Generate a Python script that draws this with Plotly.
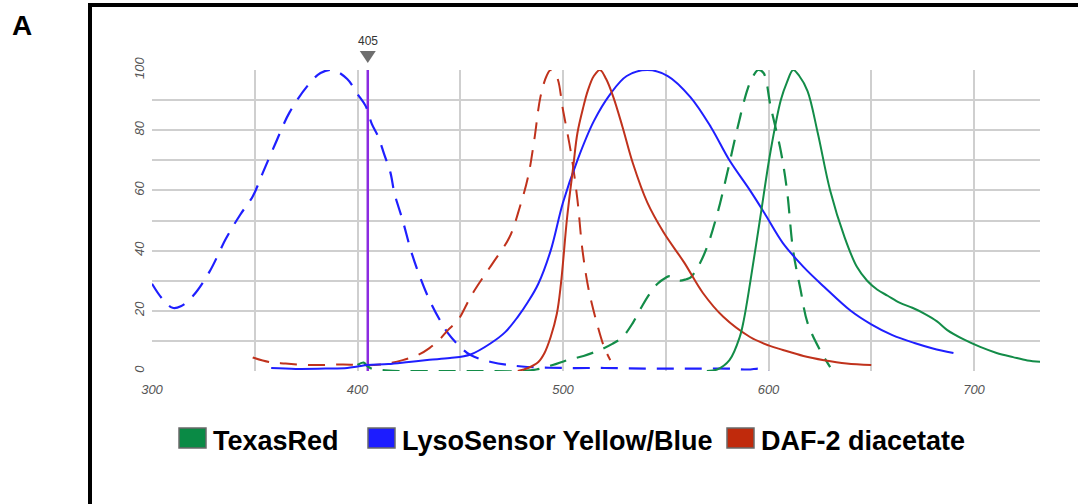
import plotly.graph_objects as go

# ---------------- data (wavelength nm, normalized intensity %) ----------------
lyso_ex_x = [300, 305, 310, 314, 320, 328, 336, 343, 349, 354, 360, 367, 376, 382, 388,
             395, 400, 404, 407, 410, 413, 416, 418, 422, 426, 430, 435, 440, 444, 450,
             455, 465, 480, 500, 520, 540, 560, 580, 590, 596, 600]
lyso_ex_y = [29, 24, 21, 21.5, 25, 33, 44, 52, 58, 66, 75.5, 86, 95, 99, 100,
             97, 92, 88, 82, 78, 72, 66, 59, 50, 40, 32, 23.6, 17, 12.6, 8,
             5.3, 3, 1.5, 1, 1, 0.8, 0.8, 0.8, 0.5, 0.8, 0]

lyso_em_x = [358, 370, 385, 395, 400, 405, 415, 425, 435, 445, 455, 465, 472, 478, 483,
             488, 494, 500, 507, 515, 523, 531, 541, 551, 562, 572, 581, 591, 598, 607,
             617, 627, 640, 650, 660, 671, 680, 690]
lyso_em_y = [1, 0.7, 0.8, 1, 1.5, 2, 2.3, 3, 3.7, 4.3, 5.5, 9.3, 13, 18, 23,
             29, 40, 56, 70, 83, 92, 98, 100, 98, 91, 81, 70, 60, 52.5, 42.5,
             34.6, 28, 20, 15.5, 12, 9.3, 7.5, 6]

daf_ex_x = [349, 357, 365, 375, 385, 393, 400, 408, 415, 422, 430, 435, 440, 444, 449,
            455, 460, 466, 474, 479, 483, 486, 489, 492, 494, 497, 500, 504, 507, 509.5,
            512.5, 517, 520, 523]
daf_ex_y = [4.5, 3, 2.5, 2, 2, 2.2, 2, 2, 2.5, 3.6, 5.5, 7.6, 10.5, 13.6, 17,
            24.6, 30, 36, 44.5, 54.5, 64.5, 76.7, 91, 98, 100, 97.7, 86.7, 72, 57, 40,
            27, 14.6, 8, 3.6]

daf_em_x = [478, 483, 488, 491, 494, 497, 499, 502, 505, 507, 510, 512, 515, 518, 521,
            524.5, 529, 534, 541, 549, 559, 568, 578, 591, 600, 607, 617, 627, 638, 650]
daf_em_y = [0, 1, 3, 6, 11.3, 19, 29, 51, 68, 79, 88, 93, 98, 100, 97,
            91, 81, 69, 56, 46, 36, 26, 18, 11.3, 8.5, 7, 5, 3.6, 2.5, 2]

tr_ex_x = [400, 403, 405, 408, 412, 420, 440, 460, 480, 487, 495, 502, 510, 518, 524,
           529, 534, 538, 542, 546, 550, 552, 555, 557, 560, 562, 566, 570, 575, 580,
           585, 590, 593, 595, 597.6, 601, 606, 609, 612, 615.6, 619, 625, 630]
tr_ex_y = [2, 2.8, 1.5, 0.5, 0.3, 0, 0, 0, 0, 0.5, 2, 3.6, 5, 7, 9,
           11.3, 16, 21, 25.5, 29, 31, 31.5, 30.5, 30, 30.5, 31, 35, 41, 52, 66,
           81, 94, 98.5, 100, 99, 88, 73, 60, 40, 27, 16, 7, 1.3]

tr_em_x = [570, 575, 581, 586, 588, 591, 596, 601, 606, 609, 612, 615, 619, 624, 630,
           637, 643, 648, 653, 658, 664, 670, 676, 682, 687, 695, 703, 711, 719, 726, 733]
tr_em_y = [0, 0.5, 3.6, 11.3, 17, 29, 51, 73, 90, 96, 100, 98, 93, 79, 60,
           44.5, 34.6, 30, 27, 25, 22.6, 21, 19, 16.5, 13.6, 10.5, 8, 6, 4.6, 3.5, 3]

laser_nm = 405
laser_label = "405"

x_tickvals = [300, 350, 400, 450, 500, 550, 600, 650, 700]
x_ticktext = ["300", "", "400", "", "500", "", "600", "", "700"]
y_tickvals = [0, 10, 20, 30, 40, 50, 60, 70, 80, 90, 100]
y_ticktext = ["0", "", "20", "", "40", "", "60", "", "80", "", "100"]

legend_names = ["TexasRed", "LysoSensor Yellow/Blue", "DAF-2 diacetate"]
legend_colors = ["#0a8a45", "#1c1cff", "#c02a0c"]
panel_label = "A"

GREEN = "#138c48"
BLUE = "#1f1fff"
RED = "#c0321c"
PURPLE = "#8b2be0"

# ---------------- layout geometry ----------------
W, H = 1078, 504
ML, MR, MT, MB = 152, 38, 70, 133
PW, PH = W - ML - MR, H - MT - MB


def px(x):
    return (x - ML) / PW


def py(y):
    return 1 - (y - MT) / PH


fig = go.Figure()

dash = "17px,11px"
fig.add_trace(go.Scatter(x=[laser_nm, laser_nm], y=[0, 100], mode="lines",
                         line=dict(color=PURPLE, width=2.5), showlegend=False, hoverinfo="skip"))
fig.add_trace(go.Scatter(x=lyso_ex_x, y=lyso_ex_y, mode="lines", line=dict(color=BLUE, width=2.2, dash=dash),
                         line_shape="spline", showlegend=False))
fig.add_trace(go.Scatter(x=daf_ex_x, y=daf_ex_y, mode="lines", line=dict(color=RED, width=2, dash=dash),
                         line_shape="spline", showlegend=False))
fig.add_trace(go.Scatter(x=tr_ex_x, y=tr_ex_y, mode="lines", line=dict(color=GREEN, width=2.2, dash=dash),
                         line_shape="spline", showlegend=False))
fig.add_trace(go.Scatter(x=lyso_em_x, y=lyso_em_y, mode="lines", line=dict(color=BLUE, width=2),
                         line_shape="spline", showlegend=False))
fig.add_trace(go.Scatter(x=daf_em_x, y=daf_em_y, mode="lines", line=dict(color=RED, width=2),
                         line_shape="spline", showlegend=False))
fig.add_trace(go.Scatter(x=tr_em_x, y=tr_em_y, mode="lines", line=dict(color=GREEN, width=2),
                         line_shape="spline", showlegend=False))

# laser marker triangle + label (above the plot)
fig.add_shape(type="path", xref="x", yref="paper", xsizemode="pixel", ysizemode="pixel",
              xanchor=laser_nm, yanchor=py(51), path="M-8,0 L8,0 L0,-12 Z",
              fillcolor="#6e6e6e", line=dict(width=0), layer="above")
fig.add_annotation(x=laser_nm, xref="x", yref="paper", y=py(41), text=laser_label, showarrow=False,
                   xanchor="center", yanchor="middle",
                   font=dict(family="Liberation Sans, Arial", size=12, color="#333333"))

tickfont = dict(family="Liberation Sans, Arial", size=13, color="#555555", style="italic")

fig.update_xaxes(range=[300, 300 + PW / 2.055], tickmode="array", tickvals=x_tickvals, ticktext=x_ticktext,
                 showgrid=True, gridcolor="#cfcfcf", gridwidth=1.6, zeroline=False, showline=False,
                 ticks="", ticklabelstandoff=9, tickfont=tickfont, fixedrange=True)
fig.update_yaxes(range=[0, 100], tickmode="array", tickvals=y_tickvals, ticktext=y_ticktext,
                 showgrid=True, gridcolor="#cfcfcf", gridwidth=1.6, zeroline=False, showline=False,
                 ticks="", tickangle=-90, ticklabelstandoff=4, tickfont=tickfont, fixedrange=True)

# outer black frame
fig.add_shape(type="rect", xref="paper", yref="paper",
              x0=px(90), y0=py(520), x1=px(1095), y1=py(5),
              line=dict(color="black", width=4), fillcolor="rgba(0,0,0,0)", layer="above")

# panel label
fig.add_annotation(xref="paper", yref="paper", x=px(22), y=py(25), text="<b>%s</b>" % panel_label,
                   showarrow=False, xanchor="center", yanchor="middle",
                   font=dict(family="Liberation Sans, Arial", size=28, color="black"))

# legend: swatches + bold labels
swatch_x0 = [179, 368, 727]
swatch_w, swatch_h = 27, 20
legend_yc = 438
for name, col, sx in zip(legend_names, legend_colors, swatch_x0):
    fig.add_shape(type="rect", xref="paper", yref="paper",
                  x0=px(sx), x1=px(sx + swatch_w), y0=py(legend_yc + swatch_h / 2), y1=py(legend_yc - swatch_h / 2),
                  line=dict(color="#6a6a6a", width=1.5), fillcolor=col)
    fig.add_annotation(xref="paper", yref="paper", x=px(sx + swatch_w + 5), y=py(legend_yc + 3),
                       text="<b>%s</b>" % name, showarrow=False, xanchor="left", yanchor="middle",
                       font=dict(family="Liberation Sans, Arial", size=27, color="black"))

fig.update_layout(width=W, height=H, margin=dict(l=ML, r=MR, t=MT, b=MB, autoexpand=False),
                  paper_bgcolor="white", plot_bgcolor="white", showlegend=False)

fig.write_html("out.html", config={"displayModeBar": False})
